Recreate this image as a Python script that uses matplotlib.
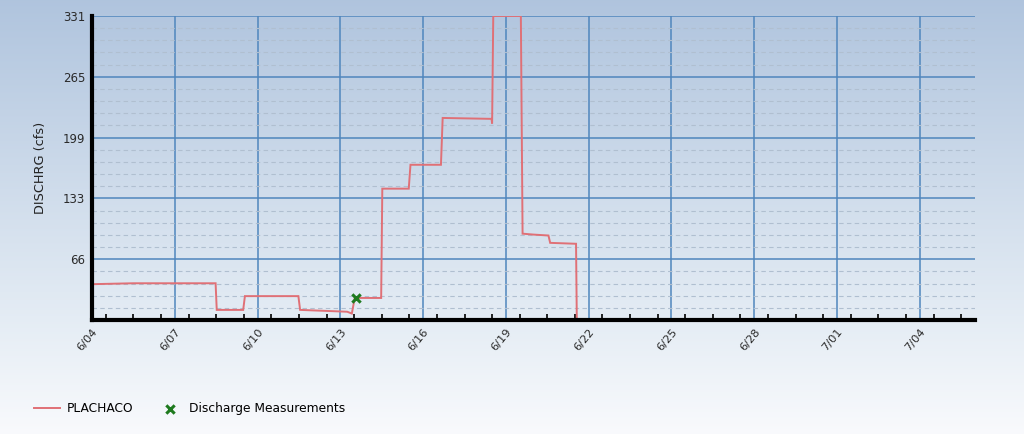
import numpy as np
import pandas as pd
import matplotlib
matplotlib.use("Agg")
import matplotlib.pyplot as plt
import matplotlib.dates as mdates
from matplotlib.ticker import FixedLocator

# ---------------- data ----------------
flow_times = [
    "2024-06-04 00:00", "2024-06-05 12:00", "2024-06-08 11:30", "2024-06-08 12:30",
    "2024-06-09 11:30", "2024-06-09 13:00", "2024-06-11 11:30", "2024-06-11 13:00",
    "2024-06-13 06:00", "2024-06-13 10:00", "2024-06-13 12:30", "2024-06-14 11:30",
    "2024-06-14 12:30", "2024-06-15 11:30", "2024-06-15 13:00", "2024-06-16 15:30",
    "2024-06-16 17:00", "2024-06-18 11:30", "2024-06-18 12:00", "2024-06-18 13:00",
    "2024-06-19 13:00", "2024-06-19 14:30", "2024-06-20 00:00", "2024-06-20 13:00",
    "2024-06-20 14:30", "2024-06-21 13:00", "2024-06-21 13:40",
]
flow_values = [
    39, 40, 40, 11,
    11, 26, 26, 11,
    9, 7, 24, 24,
    143, 143, 169, 169,
    220, 219, 214, 331,
    331, 94, 93, 92,
    84, 83, 0,
]
meas_times = ["2024-06-13 14:00"]
meas_values = [24]

y_tick_values = [66.2, 132.4, 198.6, 264.8, 331]
y_tick_labels = ["66", "133", "199", "265", "331"]
x_start, x_end = "2024-06-04", "2024-07-06"
series_name = "PLACHACO"
meas_name = "Discharge Measurements"
y_label = "DISCHRG (cfs)"

# ---------------- figure ----------------
plt.rcParams['font.family'] = ['DejaVu Sans']
fig = plt.figure(figsize=(10.24, 4.34), dpi=100)

# background gradient
bg = fig.add_axes([0, 0, 1, 1], zorder=-10)
grad = np.linspace(0, 1, 256)
top = np.array([0.69, 0.77, 0.87])
mid = np.array([0.90, 0.93, 0.96])
bot = np.array([0.975, 0.98, 0.99])
img = np.zeros((256, 1, 3))
for i, g in enumerate(grad):
    if g < 0.75:
        img[i, 0] = top + (mid - top) * (g / 0.75)
    else:
        img[i, 0] = mid + (bot - mid) * ((g - 0.75) / 0.25)
bg.imshow(img, aspect='auto', extent=[0, 1, 0, 1])
bg.axis('off')

ax = fig.add_axes([92/1024, 1-320/434, (975-92)/1024, (320-16)/434])
ax.set_facecolor('none')
ax.set_axisbelow(True)

t = pd.to_datetime(flow_times)
tm = pd.to_datetime(meas_times)
line, = ax.plot(t, flow_values, color='#e07076', lw=1.4, zorder=4, solid_joinstyle='miter')
sc = ax.scatter(tm, meas_values, marker='x', color='#1e7a1e', s=36, linewidths=2.2, zorder=5)

ax.set_xlim(pd.Timestamp(x_start), pd.Timestamp(x_end))
ax.set_ylim(0, 331)

# x ticks
major_days = pd.date_range("2024-06-04", "2024-07-04", freq="3D")
ax.xaxis.set_major_locator(FixedLocator(mdates.date2num(major_days)))
ax.xaxis.set_major_formatter(mdates.DateFormatter("%-m/%d"))
minor_days = pd.date_range("2024-06-04 12:00", "2024-07-05 12:00", freq="1D")
ax.xaxis.set_minor_locator(FixedLocator(mdates.date2num(minor_days)))

ax.set_yticks(y_tick_values)
ax.set_yticklabels(y_tick_labels)
ax.set_yticks(np.arange(13.24, 331, 13.24), minor=True)

for lab in ax.get_xticklabels():
    lab.set_rotation(50)
    lab.set_ha('right')
    lab.set_va('top')
    lab.set_rotation_mode('anchor')

ax.tick_params(axis='x', which='major', length=0, pad=5, labelsize=8.2, labelcolor='#2a2a2a')
ax.tick_params(axis='x', which='minor', direction='in', length=4, width=1.2, color='black')
ax.tick_params(axis='y', which='both', length=0, pad=5, labelsize=8.5, labelcolor='#2a2a2a')

ax.grid(True, which='major', axis='both', color='#4f86bd', lw=1.1)
ax.grid(True, which='minor', axis='y', color='#b0bfd0', lw=0.8, ls=(0, (4, 3)))

for s in ['top', 'right']:
    ax.spines[s].set_visible(False)
for s in ['left', 'bottom']:
    ax.spines[s].set_linewidth(3)
    ax.spines[s].set_color('black')
    ax.spines[s].set_zorder(6)

ax.set_ylabel(y_label, fontsize=9.3, color='#222222', labelpad=11)

fig.legend([line, sc], [series_name, meas_name], loc='center left',
           bbox_to_anchor=(0.022, 0.058), ncol=2, frameon=False,
           fontsize=8.8, handlelength=2.2, columnspacing=1.9, handletextpad=0.5)

fig.savefig("out.png", dpi=100)
